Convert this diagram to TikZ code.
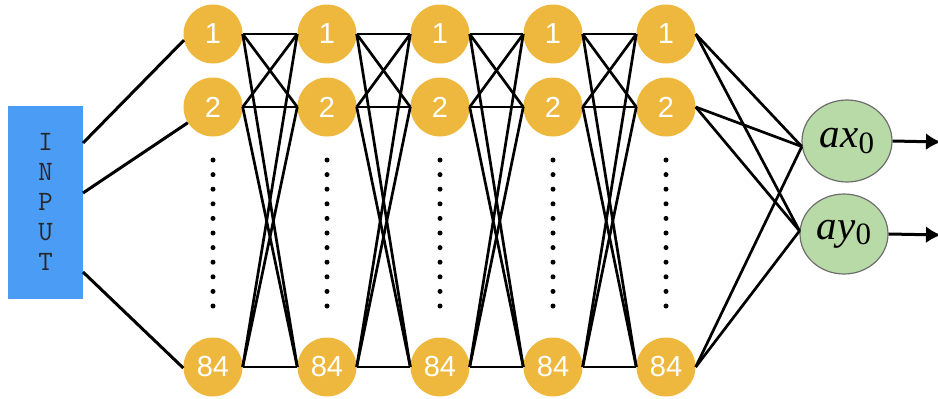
\documentclass[tikz,border=0pt]{standalone}
\usepackage{fontspec}
\setmainfont{Liberation Sans}
\newfontfamily\seriffont{Liberation Serif}
\usetikzlibrary{shapes.geometric,arrows.meta}
\definecolor{neuronorange}{HTML}{EDB83D}
\definecolor{inputblue}{HTML}{4A9CF4}
\definecolor{outgreen}{HTML}{B7DAA6}
\definecolor{outline}{HTML}{6E6E6E}
\tikzset{
  neuron/.style={circle, fill=neuronorange, minimum size=59pt, inner sep=0pt,
    text=white, font=\fontsize{29}{29}\selectfont},
  outnode/.style={ellipse, fill=outgreen, draw=outline, line width=1.2pt, inner sep=0pt,
    font=\seriffont\fontsize{41}{41}\selectfont},
  link/.style={line width=2.7pt, black},
  inlink/.style={line width=3pt, black},
  dotmark/.style={circle, fill=black, inner sep=0pt, minimum size=5pt},
  outarrow/.style={line width=3pt, black, -{Latex[length=15pt,width=17pt]}},
}
\begin{document}
\begin{tikzpicture}[x=1pt, y=-1pt]
\useasboundingbox (0,0) rectangle (938,399);

% input block
\node[fill=inputblue, minimum width=75pt, minimum height=193pt, inner sep=0pt,
  text=black!85, font=\ttfamily\fontsize{28}{30}\selectfont, align=center] (in) at (45.5,202)
  {I\\N\\P\\U\\T};
\coordinate (inA) at (83,143);
\coordinate (inB) at (83,193);
\coordinate (inC) at (83,272);

% hidden layers
\foreach \i/\x in {1/213,2/327,3/440,4/553,5/666} {
  \node[neuron] (n\i-1) at (\x,34) {1};
  \node[neuron] (n\i-2) at (\x,107) {2};
  \node[neuron] (n\i-84) at (\x,367) {84};
  \foreach \k in {0,...,10}
    \node[dotmark] (d\i-\k) at (\x,160+14.6*\k) {};
}

% links between consecutive layers
\foreach \i/\j in {1/2,2/3,3/4,4/5} {
  \foreach \a in {1,2,84}
    \foreach \b in {1,2,84}
      \draw[link] (n\i-\a.east) -- (n\j-\b.west);
}

% input links
\draw[inlink] (inA) -- (n1-1.192);
\draw[inlink] (inB) -- (n1-2.212);
\draw[inlink] (inC) -- (n1-84.182);

% outputs
\node[outnode, minimum width=90pt, minimum height=82pt] (ax) at (847,141)
  {\itshape ax\raisebox{-0.3ex}{\upshape\fontsize{31}{31}\selectfont 0}};
\node[outnode, minimum width=88pt, minimum height=80pt] (ay) at (844,234)
  {\itshape ay\raisebox{-0.3ex}{\upshape\fontsize{31}{31}\selectfont 0}};

\foreach \a in {1,2,84} {
  \draw[link] (n5-\a.east) -- (ax.187);
  \draw[link] (n5-\a.east) -- (ay.176);
}

\coordinate (axOut) at (941,142);
\coordinate (ayOut) at (941,235);
\draw[outarrow] (ax.east) -- (axOut);
\draw[outarrow] (ay.east) -- (ayOut);
\end{tikzpicture}
\end{document}
